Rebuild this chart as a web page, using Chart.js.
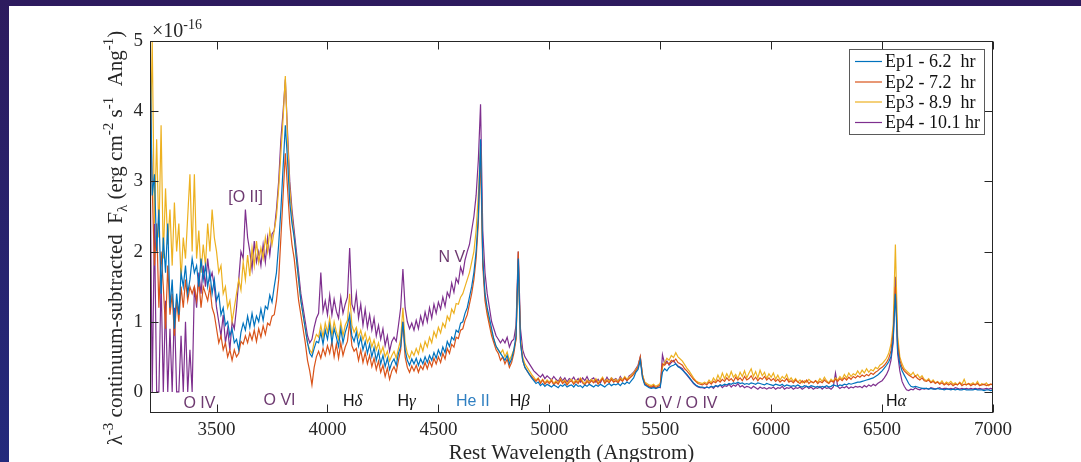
<!DOCTYPE html>
<html><head><meta charset="utf-8">
<script src="https://cdn.jsdelivr.net/npm/chart.js@4.4.0/dist/chart.umd.min.js"></script>
<style>html,body{margin:0;padding:0;background:#fff;overflow:hidden}canvas{display:block}</style>
</head><body>
<canvas id="c" width="1081" height="462"></canvas>
<script>
// Wavelength grid (Angstrom): 3200 .. 7000 in 10 A steps
const WL_START = 3200, WL_STEP = 10;

// Ep1 - 6.2 hr (x1e-16)
const ep1 = [
/*3200*/ 5.0,2.8,3.1,2.0,2.6,1.4,2.2,1.7,2.4,1.2,
/*3300*/ 1.6,0.9,1.4,1.1,1.7,1.5,1.8,1.4,1.6,1.9,
/*3400*/ 1.7,1.8,1.5,1.9,1.6,1.8,1.5,1.7,1.4,1.6,
/*3500*/ 1.3,1.4,1.1,1.2,0.95,1.0,0.8,0.9,0.7,0.75,
/*3600*/ 0.6,0.85,0.98,0.88,1.08,0.92,1.12,0.94,1.08,1.0,
/*3700*/ 1.18,1.02,1.22,1.18,1.38,1.28,1.5,1.7,2.1,2.6,
/*3800*/ 3.2,3.8,3.3,2.7,2.4,2.2,1.9,1.6,1.3,1.1,
/*3900*/ 0.9,0.7,0.55,0.5,0.62,0.72,0.7,0.85,0.68,0.88,
/*4000*/ 0.75,0.95,0.7,0.9,0.78,0.65,0.9,0.7,0.85,0.95,
/*4100*/ 1.1,0.8,0.72,0.85,0.65,0.78,0.6,0.72,0.55,0.68,
/*4200*/ 0.5,0.63,0.45,0.58,0.4,0.52,0.36,0.48,0.32,0.42,
/*4300*/ 0.47,0.38,0.55,0.65,1.0,0.6,0.45,0.38,0.47,0.4,
/*4400*/ 0.48,0.38,0.47,0.4,0.5,0.42,0.52,0.45,0.56,0.48,
/*4500*/ 0.6,0.52,0.64,0.56,0.72,0.65,0.78,0.74,0.88,0.85,
/*4600*/ 0.98,1.0,1.12,1.2,1.35,1.5,1.7,2.0,2.5,3.6,
/*4700*/ 1.9,1.4,1.2,1.05,0.9,0.75,0.65,0.6,0.55,0.5,
/*4800*/ 0.45,0.52,0.4,0.47,0.6,0.8,1.9,0.7,0.45,0.35,
/*4900*/ 0.3,0.25,0.2,0.16,0.12,0.14,0.09,0.12,0.08,0.11,
/*5000*/ 0.09,0.07,0.1,0.08,0.06,0.1,0.08,0.11,0.07,0.09,
/*5100*/ 0.1,0.07,0.11,0.08,0.09,0.06,0.1,0.08,0.11,0.09,
/*5200*/ 0.07,0.1,0.08,0.11,0.09,0.07,0.1,0.12,0.09,0.11,
/*5300*/ 0.1,0.12,0.09,0.13,0.11,0.14,0.12,0.16,0.2,0.28,
/*5400*/ 0.32,0.45,0.2,0.1,0.08,0.06,0.05,0.06,0.05,0.06,
/*5500*/ 0.07,0.28,0.33,0.3,0.35,0.37,0.38,0.4,0.36,0.34,
/*5600*/ 0.31,0.28,0.25,0.21,0.17,0.13,0.1,0.08,0.07,0.07,
/*5700*/ 0.06,0.07,0.06,0.08,0.07,0.09,0.08,0.1,0.09,0.11,
/*5800*/ 0.1,0.12,0.11,0.13,0.12,0.14,0.12,0.13,0.11,0.12,
/*5900*/ 0.11,0.13,0.12,0.11,0.13,0.12,0.11,0.1,0.12,0.11,
/*6000*/ 0.1,0.09,0.11,0.1,0.09,0.11,0.08,0.1,0.09,0.08,
/*6100*/ 0.09,0.08,0.1,0.08,0.07,0.09,0.08,0.07,0.09,0.08,
/*6200*/ 0.07,0.08,0.06,0.08,0.07,0.09,0.07,0.08,0.1,0.09,
/*6300*/ 0.08,0.1,0.09,0.11,0.1,0.12,0.11,0.12,0.13,0.14,
/*6400*/ 0.14,0.15,0.16,0.17,0.18,0.19,0.2,0.22,0.24,0.27,
/*6500*/ 0.3,0.34,0.38,0.43,0.5,0.75,1.4,0.6,0.4,0.3,
/*6600*/ 0.24,0.18,0.12,0.08,0.07,0.08,0.07,0.06,0.05,0.05,
/*6700*/ 0.05,0.04,0.05,0.04,0.04,0.05,0.04,0.04,0.03,0.04,
/*6800*/ 0.04,0.03,0.04,0.03,0.04,0.03,0.03,0.04,0.03,0.03,
/*6900*/ 0.03,0.03,0.04,0.03,0.03,0.03,0.02,0.03,0.03,0.02,
/*7000*/ 0.03
];

// Ep2 - 7.2 hr
const ep2 = [
/*3200*/ 4.5,2.9,1.8,2.4,1.2,2.0,1.5,0.9,1.8,1.1,
/*3300*/ 1.4,0.8,1.3,1.0,1.5,1.2,1.6,1.3,1.5,1.4,
/*3400*/ 1.5,1.3,1.6,1.2,1.5,1.4,1.3,1.5,1.2,1.1,
/*3500*/ 0.9,0.7,0.8,0.6,0.7,0.5,0.6,0.45,0.6,0.5,
/*3600*/ 0.55,0.72,0.68,0.8,0.7,0.84,0.74,0.88,0.72,0.9,
/*3700*/ 0.78,0.94,0.82,0.98,0.95,1.08,1.1,1.3,1.6,2.2,
/*3800*/ 2.8,3.4,2.9,2.4,2.1,1.9,1.6,1.3,1.1,0.9,
/*3900*/ 0.7,0.45,0.3,0.1,0.35,0.5,0.58,0.48,0.62,0.52,
/*4000*/ 0.66,0.55,0.72,0.5,0.68,0.48,0.7,0.52,0.64,0.72,
/*4100*/ 1.0,0.66,0.58,0.62,0.45,0.6,0.42,0.56,0.4,0.52,
/*4200*/ 0.36,0.48,0.32,0.44,0.28,0.38,0.22,0.34,0.18,0.3,
/*4300*/ 0.36,0.28,0.45,0.6,1.0,0.5,0.35,0.28,0.37,0.3,
/*4400*/ 0.38,0.28,0.37,0.32,0.42,0.33,0.44,0.36,0.48,0.4,
/*4500*/ 0.5,0.42,0.55,0.47,0.62,0.55,0.68,0.64,0.78,0.76,
/*4600*/ 0.88,0.9,1.02,1.1,1.25,1.4,1.6,1.9,2.4,3.4,
/*4700*/ 1.8,1.3,1.1,0.95,0.8,0.7,0.6,0.55,0.45,0.5,
/*4800*/ 0.4,0.47,0.35,0.42,0.55,0.75,2.0,0.7,0.45,0.35,
/*4900*/ 0.3,0.25,0.22,0.18,0.15,0.19,0.12,0.17,0.11,0.15,
/*5000*/ 0.12,0.16,0.1,0.14,0.11,0.17,0.12,0.15,0.1,0.14,
/*5100*/ 0.16,0.11,0.15,0.12,0.18,0.13,0.1,0.15,0.12,0.16,
/*5200*/ 0.13,0.17,0.11,0.15,0.19,0.12,0.16,0.13,0.18,0.14,
/*5300*/ 0.16,0.13,0.18,0.15,0.2,0.16,0.19,0.22,0.25,0.3,
/*5400*/ 0.35,0.5,0.22,0.12,0.1,0.08,0.07,0.09,0.06,0.08,
/*5500*/ 0.1,0.4,0.38,0.42,0.4,0.45,0.43,0.47,0.42,0.4,
/*5600*/ 0.38,0.33,0.3,0.26,0.22,0.18,0.15,0.12,0.11,0.1,
/*5700*/ 0.12,0.1,0.14,0.11,0.15,0.13,0.17,0.14,0.18,0.15,
/*5800*/ 0.2,0.16,0.19,0.15,0.21,0.17,0.2,0.16,0.22,0.17,
/*5900*/ 0.19,0.23,0.17,0.21,0.16,0.2,0.18,0.22,0.17,0.2,
/*6000*/ 0.16,0.19,0.15,0.18,0.14,0.17,0.15,0.19,0.14,0.16,
/*6100*/ 0.13,0.17,0.14,0.12,0.16,0.13,0.17,0.12,0.15,0.13,
/*6200*/ 0.16,0.12,0.15,0.13,0.17,0.14,0.12,0.16,0.14,0.18,
/*6300*/ 0.15,0.19,0.16,0.2,0.17,0.21,0.18,0.22,0.2,0.23,
/*6400*/ 0.21,0.24,0.22,0.25,0.23,0.27,0.25,0.28,0.3,0.33,
/*6500*/ 0.35,0.38,0.42,0.48,0.58,0.85,1.5,0.7,0.45,0.35,
/*6600*/ 0.3,0.27,0.24,0.22,0.2,0.23,0.19,0.17,0.2,0.16,
/*6700*/ 0.15,0.17,0.13,0.15,0.12,0.14,0.11,0.13,0.1,0.12,
/*6800*/ 0.1,0.12,0.09,0.11,0.1,0.13,0.09,0.11,0.1,0.12,
/*6900*/ 0.09,0.11,0.1,0.12,0.09,0.1,0.11,0.09,0.1,0.11,
/*7000*/ 0.1
];

// Ep3 - 8.9 hr
const ep3 = [
/*3200*/ 3.2,5.0,2.4,3.6,2.2,3.8,1.9,2.9,2.1,2.6,
/*3300*/ 1.8,2.7,2.0,2.4,1.6,2.2,1.9,2.5,3.1,2.0,
/*3400*/ 3.1,1.9,2.3,1.7,2.1,1.8,2.4,2.0,2.6,2.2,
/*3500*/ 2.0,1.7,1.8,1.4,1.5,1.2,1.3,1.0,1.2,1.4,
/*3600*/ 1.6,1.45,1.85,1.6,1.95,1.65,2.05,1.8,2.15,1.85,
/*3700*/ 2.05,1.9,2.2,2.0,2.3,2.1,2.3,2.5,2.9,3.4,
/*3800*/ 3.9,4.5,3.6,2.9,2.5,2.2,1.9,1.6,1.3,1.1,
/*3900*/ 0.9,0.7,0.6,0.55,0.72,0.82,0.78,0.95,0.78,0.98,
/*4000*/ 0.85,1.05,0.8,1.0,0.86,0.75,1.0,0.8,0.95,1.02,
/*4100*/ 1.4,0.95,0.85,0.92,0.78,0.88,0.74,0.84,0.7,0.78,
/*4200*/ 0.64,0.74,0.6,0.7,0.55,0.64,0.5,0.58,0.44,0.52,
/*4300*/ 0.58,0.48,0.62,0.75,1.2,0.7,0.55,0.48,0.58,0.52,
/*4400*/ 0.62,0.54,0.68,0.58,0.72,0.64,0.78,0.7,0.86,0.78,
/*4500*/ 0.92,0.84,0.98,0.92,1.08,1.02,1.18,1.12,1.26,1.25,
/*4600*/ 1.35,1.4,1.5,1.6,1.7,1.85,2.0,2.3,2.8,3.5,
/*4700*/ 1.9,1.4,1.15,1.0,0.85,0.75,0.65,0.6,0.55,0.6,
/*4800*/ 0.5,0.57,0.45,0.52,0.6,0.75,1.8,0.75,0.5,0.4,
/*4900*/ 0.35,0.3,0.25,0.21,0.17,0.2,0.14,0.18,0.13,0.17,
/*5000*/ 0.14,0.18,0.12,0.16,0.13,0.19,0.14,0.17,0.12,0.16,
/*5100*/ 0.18,0.13,0.17,0.14,0.2,0.15,0.12,0.17,0.14,0.18,
/*5200*/ 0.15,0.19,0.13,0.17,0.21,0.14,0.18,0.15,0.2,0.16,
/*5300*/ 0.18,0.15,0.2,0.17,0.22,0.18,0.21,0.24,0.27,0.32,
/*5400*/ 0.36,0.48,0.25,0.14,0.12,0.1,0.09,0.11,0.08,0.1,
/*5500*/ 0.12,0.35,0.42,0.48,0.45,0.52,0.49,0.56,0.5,0.47,
/*5600*/ 0.44,0.39,0.34,0.3,0.25,0.2,0.16,0.14,0.13,0.12,
/*5700*/ 0.14,0.12,0.17,0.13,0.2,0.15,0.24,0.17,0.27,0.19,
/*5800*/ 0.26,0.2,0.29,0.21,0.25,0.19,0.28,0.22,0.3,0.2,
/*5900*/ 0.27,0.33,0.22,0.29,0.2,0.31,0.23,0.28,0.19,0.26,
/*6000*/ 0.21,0.27,0.18,0.24,0.17,0.22,0.19,0.25,0.16,0.2,
/*6100*/ 0.15,0.19,0.14,0.17,0.13,0.16,0.14,0.18,0.15,0.13,
/*6200*/ 0.16,0.14,0.19,0.15,0.21,0.16,0.13,0.18,0.15,0.2,
/*6300*/ 0.17,0.22,0.18,0.25,0.2,0.27,0.22,0.26,0.24,0.3,
/*6400*/ 0.25,0.31,0.27,0.33,0.28,0.32,0.3,0.35,0.33,0.38,
/*6500*/ 0.4,0.44,0.48,0.55,0.68,0.95,2.1,0.8,0.5,0.4,
/*6600*/ 0.33,0.3,0.27,0.24,0.28,0.22,0.25,0.2,0.23,0.18,
/*6700*/ 0.16,0.19,0.14,0.17,0.13,0.15,0.12,0.16,0.11,0.14,
/*6800*/ 0.12,0.15,0.11,0.13,0.1,0.14,0.11,0.18,0.1,0.12,
/*6900*/ 0.11,0.13,0.1,0.15,0.09,0.12,0.1,0.13,0.09,0.11,
/*7000*/ 0.1
];

// Ep4 - 10.1 hr
const ep4 = [
/*3200*/ 3.5,0.0,2.4,0.0,0.0,1.6,0.0,1.3,0.0,0.9,
/*3300*/ 0.0,1.2,0.0,0.0,0.8,0.0,1.0,0.0,0.6,0.0,
/*3400*/ 1.5,1.2,1.7,1.4,1.8,1.5,1.9,1.6,1.7,1.5,
/*3500*/ 1.2,1.0,0.8,1.1,0.7,0.9,0.6,1.0,0.9,1.2,
/*3600*/ 1.6,2.0,1.9,2.6,2.2,2.0,1.75,2.15,1.85,2.0,
/*3700*/ 1.8,2.1,1.85,2.2,1.95,2.25,2.3,2.6,3.0,3.6,
/*3800*/ 4.0,4.45,3.7,3.0,2.6,2.3,2.0,1.7,1.4,1.2,
/*3900*/ 1.0,0.8,0.7,0.75,0.92,1.05,1.12,1.7,1.15,1.3,
/*4000*/ 1.1,1.38,1.1,1.32,1.15,1.05,1.35,1.12,1.25,1.35,
/*4100*/ 2.05,1.25,1.15,1.4,1.05,1.25,0.95,1.18,0.92,1.1,
/*4200*/ 0.88,1.05,0.8,0.95,0.75,0.9,0.66,0.8,0.58,0.72,
/*4300*/ 0.78,0.72,0.95,1.2,1.75,1.2,1.0,0.9,0.98,0.88,
/*4400*/ 1.02,0.9,1.08,0.96,1.14,1.0,1.2,1.05,1.25,1.12,
/*4500*/ 1.28,1.18,1.35,1.22,1.42,1.35,1.55,1.42,1.62,1.55,
/*4600*/ 1.78,1.68,1.88,2.0,2.1,2.3,2.5,2.8,3.3,4.1,
/*4700*/ 2.3,1.7,1.4,1.2,1.0,0.9,0.8,0.75,0.7,0.75,
/*4800*/ 0.7,0.78,0.64,0.72,0.75,0.95,2.0,0.9,0.6,0.5,
/*4900*/ 0.45,0.4,0.35,0.3,0.27,0.24,0.21,0.25,0.19,0.23,
/*5000*/ 0.2,0.17,0.22,0.18,0.15,0.21,0.16,0.2,0.14,0.19,
/*5100*/ 0.17,0.21,0.15,0.19,0.14,0.2,0.16,0.22,0.15,0.18,
/*5200*/ 0.2,0.14,0.18,0.13,0.19,0.15,0.21,0.16,0.2,0.17,
/*5300*/ 0.19,0.15,0.22,0.17,0.2,0.16,0.23,0.25,0.28,0.33,
/*5400*/ 0.38,0.5,0.24,0.12,0.09,0.07,0.06,0.08,0.05,0.07,
/*5500*/ 0.06,0.53,0.4,0.44,0.38,0.42,0.45,0.4,0.37,0.35,
/*5600*/ 0.33,0.28,0.24,0.2,0.16,0.12,0.09,0.07,0.06,0.06,
/*5700*/ 0.05,0.07,0.06,0.08,0.05,0.09,0.07,0.1,0.06,0.09,
/*5800*/ 0.08,0.11,0.07,0.1,0.08,0.12,0.07,0.09,0.06,0.08,
/*5900*/ 0.07,0.05,0.08,0.06,0.04,0.07,0.05,0.06,0.04,0.06,
/*6000*/ 0.05,0.07,0.04,0.06,0.05,0.08,0.04,0.06,0.05,0.07,
/*6100*/ 0.04,0.06,0.05,0.07,0.04,0.06,0.08,0.05,0.07,0.04,
/*6200*/ 0.06,0.05,0.08,0.04,0.07,0.05,0.06,0.04,0.07,0.27,
/*6300*/ 0.08,0.05,0.07,0.06,0.08,0.05,0.07,0.06,0.08,0.07,
/*6400*/ 0.08,0.06,0.09,0.07,0.1,0.08,0.11,0.09,0.12,0.14,
/*6500*/ 0.16,0.2,0.25,0.32,0.45,0.7,1.64,0.55,0.3,0.15,
/*6600*/ 0.08,0.03,0.02,0.04,0.03,0.06,0.04,0.03,0.05,0.04,
/*6700*/ 0.05,0.04,0.06,0.05,0.04,0.05,0.06,0.04,0.05,0.05,
/*6800*/ 0.04,0.05,0.04,0.06,0.05,0.04,0.05,0.04,0.05,0.04,
/*6900*/ 0.05,0.04,0.05,0.04,0.05,0.04,0.04,0.05,0.04,0.05,
/*7000*/ 0.04
];

const wavelengths = ep1.map((_, i) => WL_START + WL_STEP * i);
const seriesLabels = ['Ep1 - 6.2  hr', 'Ep2 - 7.2  hr', 'Ep3 - 8.9  hr', 'Ep4 - 10.1 hr'];
const seriesValues = [ep1, ep2, ep3, ep4];
const seriesColors = ['#0072BD', '#D95319', '#EDB120', '#7E2F8E'];
const xTickValues = [3500, 4000, 4500, 5000, 5500, 6000, 6500, 7000];
const yTickValues = [0, 1, 2, 3, 4, 5];
const X_MIN = 3200, X_MAX = 7000, Y_MIN = -0.3, Y_MAX = 5;

// Line identification labels: text, greek suffix, wavelength, value
const PURPLE_TXT = '#6E3A70', BLUE_TXT = '#2F7FC1', BLACK_TXT = '#111111';
const lineLabels = [
  { text: '[O II]', greek: '', wl: 3631, v: 2.77, color: PURPLE_TXT },
  { text: 'O IV', greek: '', wl: 3423, v: -0.165, color: PURPLE_TXT },
  { text: 'O VI', greek: '', wl: 3784, v: -0.12, color: PURPLE_TXT },
  { text: 'H', greek: 'δ', wl: 4114, v: -0.14, color: BLACK_TXT },
  { text: 'H', greek: 'γ', wl: 4357, v: -0.14, color: BLACK_TXT },
  { text: 'He II', greek: '', wl: 4655, v: -0.14, color: BLUE_TXT },
  { text: 'H', greek: 'β', wl: 4867, v: -0.14, color: BLACK_TXT },
  { text: 'N V', greek: '', wl: 4561, v: 1.92, color: PURPLE_TXT },
  { text: 'O V / O IV', greek: '', wl: 5594, v: -0.165, color: PURPLE_TXT },
  { text: 'H', greek: 'α', wl: 6564, v: -0.14, color: BLACK_TXT }
];

const SERIF = "'Liberation Serif', 'Times New Roman', serif";
const SANS = "'Liberation Sans', Arial, sans-serif";
const AXIS_COLOR = '#262626';

function drawParts(ctx, parts, x, y, align) {
  let total = 0;
  parts.forEach(p => { ctx.font = p.font; p.w = ctx.measureText(p.t).width; total += p.w; });
  let cx = align === 'center' ? x - total / 2 : x;
  parts.forEach(p => {
    ctx.font = p.font;
    ctx.fillText(p.t, cx, y + (p.dy || 0));
    cx += p.w;
  });
  return total;
}

const deco = {
  id: 'deco',
  beforeDraw(chart) {
    const ctx = chart.ctx;
    ctx.save();
    const g = ctx.createLinearGradient(0, 0, 0, chart.height);
    g.addColorStop(0, '#2d1b5e');
    g.addColorStop(1, '#232a7c');
    ctx.fillStyle = g;
    ctx.fillRect(0, 0, chart.width, chart.height);
    ctx.fillStyle = '#ffffff';
    ctx.fillRect(9, 6, chart.width - 9, chart.height - 6);
    ctx.restore();
  },
  afterDatasetsDraw(chart) {
    const ctx = chart.ctx;
    const xs = chart.scales.x, ys = chart.scales.y;
    const a = chart.chartArea;
    const L = Math.round(a.left) + 0.5, R = Math.round(a.right) - 0.5;
    const T = Math.round(a.top) + 0.5, B = Math.round(a.bottom) - 0.5;
    ctx.save();
    // axes box
    ctx.strokeStyle = AXIS_COLOR;
    ctx.lineWidth = 1;
    ctx.strokeRect(L, T, R - L, B - T);
    // inside ticks
    const TL = 8;
    ctx.beginPath();
    xTickValues.forEach(v => {
      const px = Math.round(xs.getPixelForValue(v)) + 0.5;
      ctx.moveTo(px, B); ctx.lineTo(px, B - TL);
      ctx.moveTo(px, T); ctx.lineTo(px, T + TL);
    });
    yTickValues.forEach(v => {
      const py = Math.round(ys.getPixelForValue(v)) + 0.5;
      ctx.moveTo(L, py); ctx.lineTo(L + TL, py);
      ctx.moveTo(R, py); ctx.lineTo(R - TL, py);
    });
    ctx.stroke();

    // exponent
    ctx.fillStyle = AXIS_COLOR;
    ctx.textBaseline = 'alphabetic';
    ctx.textAlign = 'left';
    drawParts(ctx, [
      { t: '×10', font: '20px ' + SERIF },
      { t: '-16', font: '14px ' + SERIF, dy: -8 }
    ], a.left + 2, 37, 'left');

    // x title
    ctx.font = '21px ' + SERIF;
    ctx.textAlign = 'center';
    ctx.fillText('Rest Wavelength (Angstrom)', (a.left + a.right) / 2, 459);

    // y title (rotated)
    ctx.save();
    ctx.translate(122, 238);
    ctx.rotate(-Math.PI / 2);
    ctx.textAlign = 'left';
    const big = '21px ' + SERIF, small = '15px ' + SERIF;
    drawParts(ctx, [
      { t: 'λ', font: big },
      { t: '-3', font: small, dy: -9 },
      { t: ' continuum-subtracted  F', font: big },
      { t: 'λ', font: small, dy: 5 },
      { t: ' (erg cm', font: big },
      { t: '-2', font: small, dy: -9 },
      { t: ' s', font: big },
      { t: '-1', font: small, dy: -9 },
      { t: '  Ang', font: big },
      { t: '-1', font: small, dy: -9 },
      { t: ')', font: big }
    ], 0, 0, 'center');
    ctx.restore();

    // line identification labels
    ctx.textBaseline = 'middle';
    ctx.textAlign = 'left';
    lineLabels.forEach(lb => {
      const px = xs.getPixelForValue(lb.wl), py = ys.getPixelForValue(lb.v);
      ctx.fillStyle = lb.color;
      const parts = [{ t: lb.text, font: '16px ' + SANS }];
      if (lb.greek) parts.push({ t: lb.greek, font: 'italic 17px ' + SERIF });
      drawParts(ctx, parts, px, py, 'center');
    });

    // legend
    const bx = 849.5, by = 49.5, bw = 135, bh = 85;
    ctx.fillStyle = '#ffffff';
    ctx.fillRect(bx, by, bw, bh);
    ctx.strokeStyle = '#5a5a5a';
    ctx.strokeRect(bx, by, bw, bh);
    const rowsY = [61.5, 82, 102, 122.5];
    seriesLabels.forEach((lab, i) => {
      ctx.strokeStyle = seriesColors[i];
      ctx.lineWidth = 1.2;
      ctx.beginPath();
      ctx.moveTo(855, rowsY[i]); ctx.lineTo(882, rowsY[i]);
      ctx.stroke();
      ctx.fillStyle = '#111111';
      ctx.font = '18px ' + SERIF;
      ctx.textBaseline = 'middle';
      ctx.fillText(lab, 885, rowsY[i] + 1);
    });
    ctx.restore();
  }
};

const datasets = seriesValues.map((vals, i) => ({
  label: seriesLabels[i],
  data: vals.map((v, j) => ({ x: wavelengths[j], y: v })),
  borderColor: seriesColors[i],
  backgroundColor: seriesColors[i],
  borderWidth: 1.2,
  pointRadius: 0,
  tension: 0,
  fill: false
}));

new Chart(document.getElementById('c'), {
  type: 'line',
  data: { datasets },
  options: {
    responsive: false,
    animation: false,
    devicePixelRatio: 1,
    layout: { padding: { left: 0, top: 41, right: 88, bottom: 0 } },
    plugins: { legend: { display: false }, tooltip: { enabled: false } },
    scales: {
      x: {
        type: 'linear', min: X_MIN, max: X_MAX,
        grid: { display: false, drawTicks: false },
        border: { display: false },
        afterFit: s => { s.height = 49; },
        afterBuildTicks: s => { s.ticks = xTickValues.map(v => ({ value: v })); },
        ticks: {
          padding: 6, maxRotation: 0, autoSkip: false,
          color: AXIS_COLOR, font: { family: SERIF, size: 19 },
          callback: v => String(v)
        }
      },
      y: {
        type: 'linear', min: Y_MIN, max: Y_MAX,
        grid: { display: false, drawTicks: false },
        border: { display: false },
        afterFit: s => { s.width = 150; },
        afterBuildTicks: s => { s.ticks = yTickValues.map(v => ({ value: v })); },
        ticks: {
          padding: 7, autoSkip: false,
          color: AXIS_COLOR, font: { family: SERIF, size: 19 },
          callback: v => String(v)
        }
      }
    }
  },
  plugins: [deco]
});
</script>
</body></html>
